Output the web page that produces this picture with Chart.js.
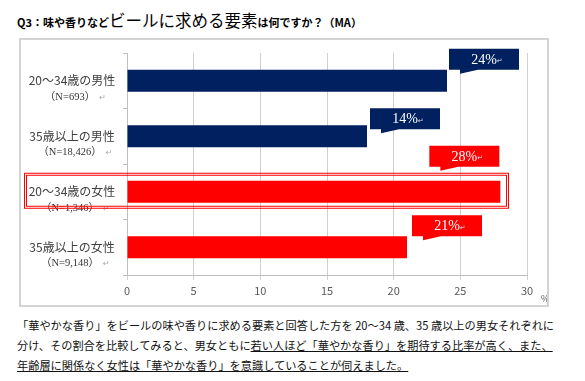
<!DOCTYPE html>
<html>
<head>
<meta charset="utf-8">
<script src="https://cdn.jsdelivr.net/npm/chart.js@4/dist/chart.umd.min.js"></script>
<style>
  html, body { margin: 0; padding: 0; background: #fff; width: 585px; height: 381px; overflow: hidden; }
  body { position: relative; font-family: "Noto Sans CJK JP", sans-serif; color: #000; }
  #title { position: absolute; left: 17px; top: 10px; white-space: nowrap; line-height: 20px; }
  #title .s { font-size: 11px; font-weight: bold; }
  #title .b { font-size: 16.5px; }
  #frame { position: absolute; left: 19px; top: 38px; width: 526px; height: 265px; border: 2px solid #d4d4d4; }
  #chart { position: absolute; left: 21px; top: 40px; }
  .para { position: absolute; left: 17px; font-size: 11.2px; white-space: nowrap; color: #111; line-height: 16px; }
  .u { text-decoration: underline; }
</style>
</head>
<body>
<div id="title"><span class="s">Q3：味や香りなど</span><span class="b">ビールに求める要素</span><span class="s">は何ですか？（MA）</span></div>
<div id="frame"></div>
<canvas id="chart" width="526" height="265"></canvas>
<div class="para" style="top:317px">「華やかな香り」をビールの味や香りに求める要素と回答した方を 20～34 歳、35 歳以上の男女それぞれに</div>
<div class="para" style="top:337px">分け、その割合を比較してみると、男女ともに<span class="u">若い人ほど「華やかな香り」を期待する比率が高く、また、</span></div>
<div class="para" style="top:357px"><span class="u">年齢層に関係なく女性は「華やかな香り」を意識していることが伺えました。</span></div>
<script>
const categories = ['20～34歳の男性', '35歳以上の男性', '20～34歳の女性', '35歳以上の女性'];
const sampleSizes = ['（N=693）', '（N=18,426）', '（N=1,346）', '（N=9,148）'];
const barValues = [24, 18, 28, 21];
const calloutLabels = ['24%', '14%', '28%', '21%'];
const axisUnit = '%';

const NAVY = '#002060', RED = '#FF0000';
const barColors = [NAVY, NAVY, RED, RED];

const overlayPlugin = {
  id: 'overlay',
  afterDatasetsDraw(chart, args, opts) {
    const ctx = chart.ctx;
    const xs = chart.scales.x, ys = chart.scales.y;
    ctx.save();
    // category labels
    categories.forEach((c, i) => {
      const y = ys.getPixelForValue(i);
      ctx.fillStyle = '#404040';
      ctx.textAlign = 'center';
      ctx.textBaseline = 'middle';
      ctx.font = '12px "Noto Sans CJK JP"';
      ctx.fillText(c, 51, y);
      ctx.font = '10.5px "Liberation Serif", "Noto Sans CJK JP"';
      ctx.fillStyle = '#333';
      ctx.fillText(sampleSizes[i], 49, y + 16);
      const w = ctx.measureText(sampleSizes[i]).width;
      ctx.fillStyle = '#aaa';
      ctx.font = '8px "DejaVu Sans"';
      ctx.textAlign = 'left';
      ctx.fillText('↵', 49 + w / 2 + 4, y + 17);
    });
    // highlight rectangle around the third category
    const hy = ys.getPixelForValue(opts.highlightIndex);
    ctx.strokeStyle = RED;
    ctx.lineWidth = 1;
    ctx.strokeRect(3.5, hy - 18.5, 484, 35);
    ctx.strokeRect(5.5, hy - 16.5, 480, 31);
    // callouts
    barValues.forEach((v, i) => {
      const yc = ys.getPixelForValue(i);
      const left = xs.getPixelForValue(v) + opts.dx[i];
      const top = yc + opts.dy[i];
      const w = 70, h = 21;
      ctx.fillStyle = barColors[i];
      ctx.beginPath();
      ctx.moveTo(left, top);
      ctx.lineTo(left + w, top);
      ctx.lineTo(left + w, top + h);
      ctx.lineTo(left + 29, top + h);
      ctx.lineTo(left + 11, top + h + 4);
      ctx.lineTo(left + 11, top + h);
      ctx.lineTo(left, top + h);
      ctx.closePath();
      ctx.fill();
      ctx.fillStyle = '#fff';
      ctx.font = '14px "Liberation Serif"';
      ctx.textAlign = 'center';
      ctx.textBaseline = 'middle';
      ctx.fillText(calloutLabels[i], left + 35, top + h / 2 + 1);
      const tw = ctx.measureText(calloutLabels[i]).width;
      ctx.font = '7px "DejaVu Sans"';
      ctx.textAlign = 'left';
      ctx.fillStyle = '#dde';
      ctx.fillText('↵', left + 35 + tw / 2, top + h / 2 + 2);
    });
    // axis unit
    ctx.fillStyle = '#595959';
    ctx.font = '9px "Noto Sans CJK JP"';
    ctx.textAlign = 'left';
    ctx.textBaseline = 'middle';
    ctx.fillText(axisUnit, xs.right + 14, xs.bottom - 6);
    ctx.restore();
  }
};

new Chart(document.getElementById('chart'), {
  type: 'bar',
  data: {
    labels: categories,
    datasets: [{
      data: barValues,
      backgroundColor: barColors,
      borderWidth: 0,
      barPercentage: 0.4,
      categoryPercentage: 1.0
    }]
  },
  options: {
    indexAxis: 'y',
    responsive: false,
    animation: false,
    devicePixelRatio: 1,
    layout: { padding: { top: 13, right: 20, left: 0, bottom: 0 } },
    plugins: {
      legend: { display: false },
      tooltip: { enabled: false },
      overlay: { highlightIndex: 2, dx: [2, 3, -71, 5], dy: [-32, -28, -46, -32] }
    },
    scales: {
      x: {
        min: 0, max: 30,
        ticks: { stepSize: 5, color: '#595959', font: { size: 11, family: '"Noto Sans CJK JP"' }, padding: 4 },
        grid: { color: '#d0d0d0', lineWidth: 1, tickLength: 5 },
        border: { color: '#bfbfbf' },
        afterFit(scale) { scale.height = 30; }
      },
      y: {
        ticks: { display: false },
        grid: { drawOnChartArea: false, offset: true, tickLength: 4, color: '#bfbfbf' },
        border: { color: '#bfbfbf' },
        afterFit(scale) { scale.width = 106; }
      }
    }
  },
  plugins: [overlayPlugin]
});
</script>
</body>
</html>
